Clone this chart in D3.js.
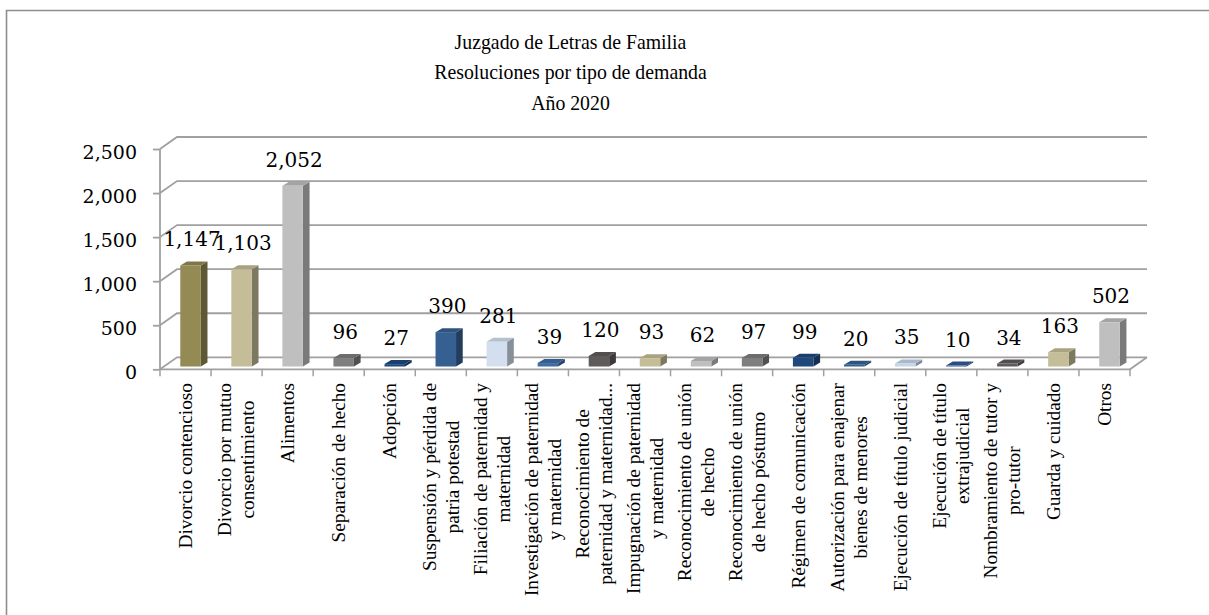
<!DOCTYPE html>
<html>
<head>
<meta charset="utf-8">
<script src="https://cdn.jsdelivr.net/npm/d3@7"></script>
<style>
  html, body { margin: 0; padding: 0; background: #fff; }
  svg { display: block; }
</style>
</head>
<body>
<svg id="chart" width="1209" height="615"></svg>
<script>
// Resolutions by type of claim, Family Court, 2020
const titleLines = ["Juzgado de Letras de Familia", "Resoluciones por tipo de demanda", "Año 2020"];

const categories = [
  ["Divorcio contencioso"],
  ["Divorcio por mutuo", "consentimiento"],
  ["Alimentos"],
  ["Separación de hecho"],
  ["Adopción"],
  ["Suspensión y pérdida de", "patria potestad"],
  ["Filiación de paternidad y", "maternidad"],
  ["Investigación de paternidad", "y maternidad"],
  ["Reconocimiento de", "paternidad y maternidad..."],
  ["Impugnación de  paternidad", "y maternidad"],
  ["Reconocimiento de unión", "de hecho"],
  ["Reconocimiento de unión", "de hecho póstumo"],
  ["Régimen de comunicación"],
  ["Autorización para enajenar", "bienes de menores"],
  ["Ejecución de título judicial"],
  ["Ejecución de título", "extrajudicial"],
  ["Nombramiento de tutor y", "pro-tutor"],
  ["Guarda y cuidado"],
  ["Otros"]
];

const values = [1147, 1103, 2052, 96, 27, 390, 281, 39, 120, 93, 62, 97, 99, 20, 35, 10, 34, 163, 502];

const yTicks = [0, 500, 1000, 1500, 2000, 2500];

// colour cycle applied point by point
const barColors = ["#948A54", "#C4BD97", "#BFBFBF", "#7F7F7F", "#1F497D", "#376092", "#D3DFEE", "#3F6CA5",
                   "#5F5B5B", "#C4BD97", "#BFBFBF", "#7F7F7F", "#1F497D", "#376092", "#C6D6EA", "#2F5A92",
                   "#5F5B5B", "#C4BD97", "#BFBFBF"];

const svg = d3.select("#chart");
const W = 1209, H = 615;

// chart frame (top and left edges)
svg.append("path")
  .attr("d", `M6.5,${H} L6.5,10.5 L${W},10.5`)
  .attr("fill", "none").attr("stroke", "#8e8e8e").attr("stroke-width", 1.6);

// title, slightly condensed serif
const titleX = 570.5;
const title = svg.append("text")
  .attr("text-anchor", "middle")
  .attr("transform", `translate(${titleX},0) scale(0.9,1)`)
  .attr("font-family", "'Liberation Serif', serif")
  .attr("font-size", 22).attr("fill", "#000");
titleLines.forEach((t, i) => {
  title.append("tspan").attr("x", 0).attr("y", 49 + i * 30.5).text(t);
});

// plot geometry (front plane + depth offset of the back wall)
const x0 = 160, x1 = 1130;
const DX = 17, DY = -12;

const x = d3.scaleBand().domain(d3.range(values.length)).range([x0, x1]).padding(0);
const y = d3.scaleLinear().domain([0, 2500]).range([369.3, 149]);

const grid = svg.append("g").attr("fill", "none").attr("stroke", "#a0a0a0").attr("stroke-width", 1.8);

// back wall gridlines and side-wall diagonals
yTicks.forEach(v => {
  grid.append("path")
    .attr("d", `M${x0},${y(v)} L${x0 + DX},${y(v) + DY} L${x1 + DX},${y(v) + DY}`);
});
// floor front edge and right edge
grid.append("path").attr("d", `M${x0},${y(0)} L${x1},${y(0)} L${x1 + DX},${y(0) + DY}`);
// vertical axis line
grid.append("path").attr("d", `M${x0},${y(0)} L${x0},${y(2500)}`);

// y axis ticks and labels
const yAxis = d3.axisLeft(y).tickValues(yTicks).tickSize(7).tickPadding(16)
  .tickFormat(d3.format(","));
const yg = svg.append("g").attr("transform", `translate(${x0},0)`).call(yAxis);
yg.select(".domain").remove();
yg.selectAll(".tick line").attr("stroke", "#a0a0a0").attr("stroke-width", 1.8);
yg.selectAll(".tick text")
  .attr("font-family", "'DejaVu Serif', serif").attr("font-size", 19)
  .attr("fill", "#000").attr("dy", "0.48em");

// category boundary ticks
const bounds = d3.range(values.length + 1).map(i => x0 + x.bandwidth() * i);
svg.append("g").selectAll("line").data(bounds).join("line")
  .attr("x1", d => d).attr("x2", d => d)
  .attr("y1", y(0)).attr("y2", y(0) + 7)
  .attr("stroke", "#a0a0a0").attr("stroke-width", 1.5);

// 3D columns
const FX = 5, FY = -2.8;        // front face placed a little into the depth
const BW = 20.5;                // front face width
const BDX = 6.7, BDY = -4;      // column depth

function shade(c, k) {
  const r = d3.rgb(c);
  return d3.rgb(r.r * k, r.g * k, r.b * k).formatHex();
}

const bars = svg.append("g").selectAll("g").data(values).join("g");
bars.each(function (v, i) {
  const g = d3.select(this);
  const cx = x(i) + x.bandwidth() / 2;
  const xl = cx + FX - BW / 2, xr = xl + BW;
  const yt = y(v) + FY, yb = y(0) + FY;
  const c = barColors[i];
  g.append("polygon")
    .attr("points", [[xr, yt], [xr + BDX, yt + BDY], [xr + BDX, yb + BDY], [xr, yb]].join(" "))
    .attr("fill", shade(c, 0.64));
  g.append("polygon")
    .attr("points", [[xl, yt], [xr, yt], [xr + BDX, yt + BDY], [xl + BDX, yt + BDY]].join(" "))
    .attr("fill", shade(c, 0.86));
  g.append("rect")
    .attr("x", xl).attr("y", yt).attr("width", BW).attr("height", yb - yt)
    .attr("fill", c);
  g.append("text")
    .attr("x", cx + FX + 1.5).attr("y", yt + BDY - 15)
    .attr("text-anchor", "middle")
    .attr("font-family", "'DejaVu Serif', serif").attr("font-size", 20)
    .attr("fill", "#000")
    .text(d3.format(",")(v));
});

// rotated category labels, top aligned under the axis, lines centred on each other
const labelTop = 383, lineStep = 23, maxBlock = 214;
const labels = svg.append("g")
  .attr("font-family", "'Liberation Serif', serif").attr("font-size", 19.3).attr("fill", "#000");
categories.forEach((lines, i) => {
  const cx = x(i) + x.bandwidth() / 2;
  const texts = lines.map((t, k) => labels.append("text").attr("text-anchor", "middle").text(t));
  const lens = texts.map(t => t.node().getComputedTextLength());
  const block = Math.min(d3.max(lens), maxBlock);
  const cy = labelTop + block / 2;
  texts.forEach((t, k) => {
    const lx = cx + (k - (lines.length - 1) / 2) * lineStep;
    t.attr("transform", `translate(${lx},${cy}) rotate(-90)`).attr("dy", "0.33em");
  });
});
</script>
</body>
</html>
